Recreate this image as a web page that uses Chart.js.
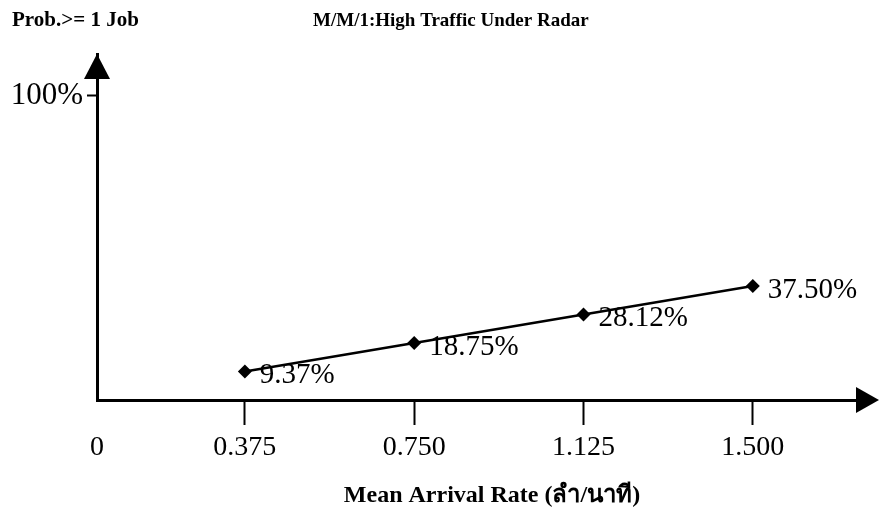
<!DOCTYPE html>
<html>
<head>
<meta charset="utf-8">
<script src="https://cdn.jsdelivr.net/npm/chart.js@4.4.1/dist/chart.umd.min.js"></script>
<style>
  html, body { margin: 0; padding: 0; background: #fff; }
  #chart { display: block; }
</style>
</head>
<body>
<canvas id="chart" width="879" height="519"></canvas>
<script>
// values
const arrivalRates = [0.375, 0.750, 1.125, 1.500];
const probAtLeastOne = [9.37, 18.75, 28.12, 37.50];
const pointLabels = ['9.37%', '18.75%', '28.12%', '37.50%'];
const xTickLabels = ['0', '0.375', '0.750', '1.125', '1.500'];
const yTickValues = [100];
const yTickLabels = ['100%'];

const leftTitle = 'Prob.>= 1 Job';
const mainTitle = 'M/M/1:High Traffic Under Radar';
const xTitle = 'Mean Arrival Rate (ลำ/นาที)';

const SERIF = '"Liberation Serif", "Times New Roman", serif';

// the origin of the drawing is not at 0 on the scan, axis starts a bit left
const X_MIN = 0.0475;
const X_MAX = 1.764;
const Y_MAX = 113.8;

const decorations = {
    id: 'decorations',
    afterDraw(chart) {
        const ctx = chart.ctx;
        const area = chart.chartArea;
        const tipX = chart.width;
        ctx.save();
        ctx.fillStyle = '#000';
        ctx.strokeStyle = '#000';

        // x axis line runs out to the arrow
        ctx.lineWidth = 3;
        ctx.beginPath();
        ctx.moveTo(area.right - 2, area.bottom);
        ctx.lineTo(tipX - 20, area.bottom);
        ctx.stroke();

        // arrow heads on both axes
        ctx.beginPath();
        ctx.moveTo(area.left, area.top);
        ctx.lineTo(area.left - 13, area.top + 25);
        ctx.lineTo(area.left + 13, area.top + 25);
        ctx.closePath();
        ctx.fill();

        ctx.beginPath();
        ctx.moveTo(tipX, area.bottom);
        ctx.lineTo(tipX - 23, area.bottom - 13);
        ctx.lineTo(tipX - 23, area.bottom + 13);
        ctx.closePath();
        ctx.fill();

        // titles
        ctx.textBaseline = 'middle';
        ctx.textAlign = 'left';
        ctx.font = 'bold 21px ' + SERIF;
        ctx.fillText(leftTitle, 12, 21);
        ctx.font = 'bold 19px ' + SERIF;
        ctx.fillText(mainTitle, 313, 21);

        ctx.textAlign = 'center';
        ctx.font = 'bold 24px ' + SERIF;
        ctx.fillText(xTitle, 492, 496);

        // value labels next to each point
        const meta = chart.getDatasetMeta(0);
        ctx.textAlign = 'left';
        ctx.font = '29px ' + SERIF;
        meta.data.forEach((pt, i) => {
            ctx.fillText(pointLabels[i], pt.x + 15, pt.y + 4);
        });
        ctx.restore();
    }
};

new Chart(document.getElementById('chart'), {
    type: 'line',
    data: {
        datasets: [{
            data: arrivalRates.map((x, i) => ({ x: x, y: probAtLeastOne[i] })),
            borderColor: '#000',
            borderWidth: 2.5,
            backgroundColor: '#000',
            pointStyle: 'rectRot',
            pointRadius: 7,
            pointBorderWidth: 0,
            pointBackgroundColor: '#000',
            tension: 0
        }]
    },
    options: {
        responsive: false,
        animation: false,
        layout: { padding: { top: 54, right: 1, left: 0, bottom: 0 } },
        plugins: {
            legend: { display: false },
            title: { display: false },
            tooltip: { enabled: false }
        },
        scales: {
            x: {
                type: 'linear',
                min: X_MIN,
                max: X_MAX,
                afterBuildTicks(scale) {
                    scale.ticks = [X_MIN].concat(arrivalRates).map(v => ({ value: v }));
                },
                afterFit(scale) { scale.height = 119; },
                border: { display: true, color: '#000', width: 3 },
                grid: {
                    drawOnChartArea: false,
                    drawTicks: true,
                    tickLength: 25,
                    tickWidth: 2,
                    tickColor: ctx => ctx.index === 0 ? 'rgba(0,0,0,0)' : '#000'
                },
                ticks: {
                    autoSkip: false,
                    maxRotation: 0,
                    padding: 6,
                    color: '#000',
                    font: { family: SERIF, size: 28 },
                    callback: (value, index) => xTickLabels[index]
                }
            },
            y: {
                type: 'linear',
                min: 0,
                max: Y_MAX,
                afterBuildTicks(scale) {
                    scale.ticks = yTickValues.map(v => ({ value: v }));
                },
                afterFit(scale) { scale.width = 97; },
                border: { display: true, color: '#000', width: 3 },
                grid: {
                    drawOnChartArea: false,
                    drawTicks: true,
                    tickLength: 10,
                    tickWidth: 2,
                    tickColor: '#000'
                },
                ticks: {
                    autoSkip: false,
                    padding: 4,
                    color: '#000',
                    font: { family: SERIF, size: 31 },
                    callback: (value, index) => yTickLabels[index]
                }
            }
        }
    },
    plugins: [decorations]
});
</script>
</body>
</html>
